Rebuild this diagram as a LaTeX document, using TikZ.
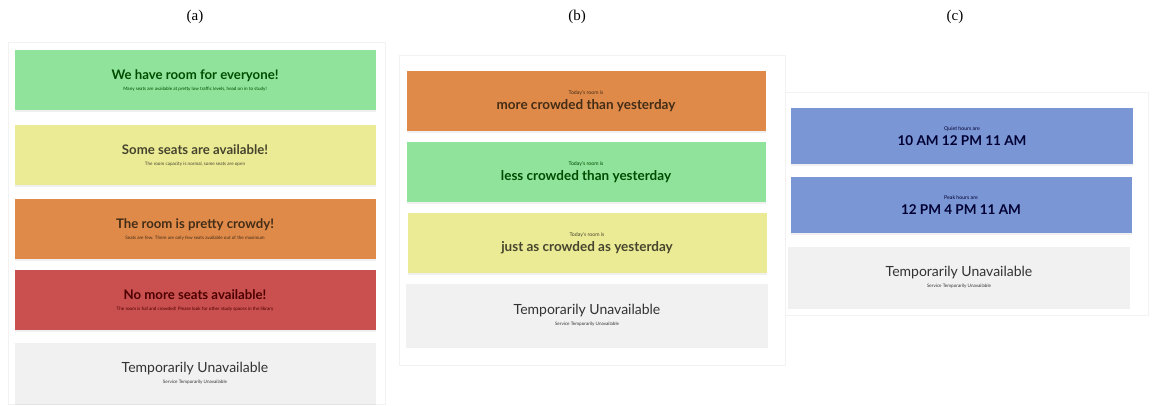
\documentclass[tikz,border=0pt]{standalone}
\usepackage{fontspec}
\usepackage{tikz}
\usetikzlibrary{shadows}
\newfontfamily\uifont{Lato}
\newfontfamily\capfont{Liberation Serif}
\definecolor{roomgreen}{RGB}{143,227,154}
\definecolor{roomyellow}{RGB}{235,235,150}
\definecolor{roomorange}{RGB}{224,138,74}
\definecolor{roomred}{RGB}{201,80,79}
\definecolor{roomgrey}{RGB}{241,241,241}
\definecolor{roomblue}{RGB}{123,150,212}
\tikzset{card/.style={rectangle,minimum width=361pt,minimum height=60pt,inner sep=0pt,align=center,font=\uifont,drop shadow={opacity=0.12,shadow xshift=0pt,shadow yshift=-1.5pt}}}
\tikzset{greencard/.style={card,fill=roomgreen,text=green!30!black}}
\tikzset{yellowcard/.style={card,fill=roomyellow,text=olive!35!black}}
\tikzset{orangecard/.style={card,fill=roomorange,text=brown!35!black}}
\tikzset{redcard/.style={card,fill=roomred,text=red!30!black}}
\tikzset{greycard/.style={card,fill=roomgrey,text=black!80}}
\tikzset{bluecard/.style={card,fill=roomblue,text=blue!20!black}}
\tikzset{panel/.style={draw=black!5,line width=0.6pt}}
\tikzset{caption/.style={font=\capfont\fontsize{15}{16}\selectfont}}
\newcommand{\statustext}[2]{{\bfseries\fontsize{13.2}{14}\selectfont #1}\\[-1pt]{\fontsize{4.6}{5}\selectfont #2}}
\newcommand{\comparetext}[2]{{\fontsize{5.2}{5.5}\selectfont #1}\\[3pt]{\bfseries\fontsize{13.5}{14}\selectfont #2}}
\newcommand{\offtext}{{\fontsize{14}{14.5}\selectfont Temporarily Unavailable}\\[-1pt]{\fontsize{4.6}{5}\selectfont Service Temporarily Unavailable}}

\begin{document}
\begin{tikzpicture}[x=1pt,y=-1pt]
\useasboundingbox (0,0) rectangle (1152,405);

% Panel labels
\node[caption] at (195,17) (la) {(a)};
\node[caption] at (577,17) (lb) {(b)};
\node[caption] at (955,17) (lc) {(c)};

% Panel frames
\draw[panel] (8,42) rectangle (385,404);
\draw[panel] (399,55) rectangle (785,365);
\draw[panel] (785,92) rectangle (1148,315);

% (a) occupancy levels
\node[greencard] at (195,80) (a1) {\statustext{We have room for everyone!}{Many seats are available at pretty low traffic levels, head on in to study!}};
\node[yellowcard] at (195,155) (a2) {\statustext{Some seats are available!}{The room capacity is normal, some seats are open}};
\node[orangecard] at (195,229) (a3) {\statustext{The room is pretty crowdy!}{Seats are few. There are only few seats available out of the maximum}};
\node[redcard] at (195,300) (a4) {\statustext{No more seats available!}{The room is full and crowded! Please look for other study spaces in the library}};
\node[greycard] at (195,373) (a5) {\offtext};

% (b) compared with yesterday
\node[orangecard,minimum width=359pt] at (586,101) (b1) {\comparetext{Today's room is}{more crowded than yesterday}};
\node[greencard,minimum width=359pt] at (586,172) (b2) {\comparetext{Today's room is}{less crowded than yesterday}};
\node[yellowcard,minimum width=359pt] at (587,243) (b3) {\comparetext{Today's room is}{just as crowded as yesterday}};
\node[greycard,minimum width=362pt,minimum height=63pt] at (587,315) (b4) {\offtext};

% (c) hours
\node[bluecard,minimum width=342pt,minimum height=56pt] at (962,136) (c1) {\comparetext{Quiet hours are}{10 AM 12 PM 11 AM}};
\node[bluecard,minimum width=341pt,minimum height=56pt] at (961,205) (c2) {\comparetext{Peak hours are}{12 PM 4 PM 11 AM}};
\node[greycard,minimum width=342pt] at (959,277) (c3) {\offtext};

\end{tikzpicture}
\end{document}
